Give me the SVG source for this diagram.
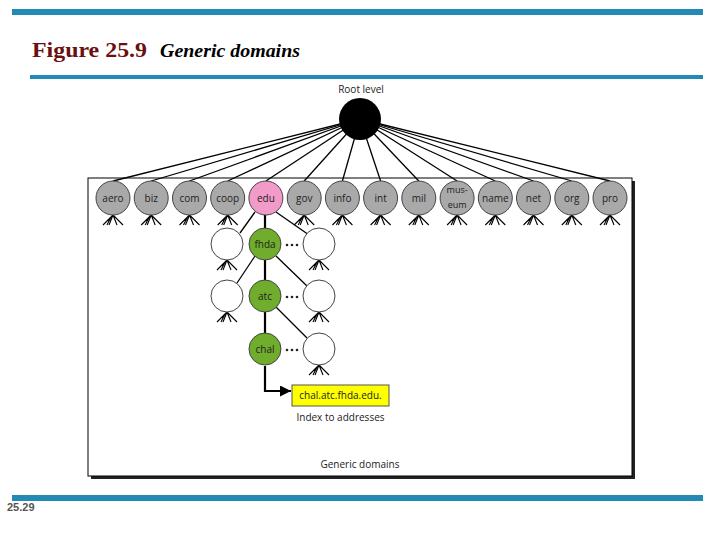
<svg xmlns="http://www.w3.org/2000/svg" width="720" height="540" viewBox="0 0 720 540">
<style>
.bar{fill:#2389b5}
.lbl{font-family:"Open Sans","Liberation Sans",Arial,sans-serif;font-size:10px;fill:#222;text-anchor:middle}
.sm{font-size:9px}
.g{fill:#a9a9a9;stroke:#444;stroke-width:1}
.w{fill:#fff;stroke:#444;stroke-width:1}
.gr{fill:#70ad2c;stroke:#444;stroke-width:1}
.pk{fill:#f29ac8;stroke:#444;stroke-width:1}
.ln{stroke:#000;stroke-width:1.3;fill:none}
.thk{stroke:#000;stroke-width:2.2;fill:none}
.fan{stroke:#000;stroke-width:1.1;fill:none}
.dot{fill:#222}
</style>
<defs>
<marker id="ah" viewBox="0 0 10 10" refX="10" refY="5" markerWidth="5" markerHeight="5" orient="auto"><path d="M0,0 L10,5 L0,10 z" fill="#000"/></marker>
<path id="f" d="M0,0 L-10,10 M0,0 L-4,10 M0,0 L4,10 M0,0 L10,10 M-2,2 L-6,10"/>
<g id="dots"><circle class="dot" cx="-5" cy="0" r="1.3"/><circle class="dot" cx="0" cy="0" r="1.3"/><circle class="dot" cx="5" cy="0" r="1.3"/></g>
</defs>
<rect class="bar" x="12" y="9" width="691" height="6"/>
<rect class="bar" x="30" y="75" width="673" height="4"/>
<rect class="bar" x="12" y="495" width="691" height="6"/>
<text x="32" y="57" font-family="Liberation Serif,serif" font-size="22" font-weight="bold" fill="#6a1010" textLength="115" lengthAdjust="spacingAndGlyphs">Figure 25.9</text>
<text x="160" y="57" font-family="Liberation Serif,serif" font-size="18" font-style="italic" font-weight="bold" fill="#000" textLength="140" lengthAdjust="spacingAndGlyphs">Generic domains</text>
<text x="7" y="511" font-family="Liberation Sans,Arial,sans-serif" font-size="11" font-weight="bold" fill="#555">25.29</text>
<g id="box">
<rect x="91" y="181" width="544" height="298" fill="#222"/>
<rect x="88" y="178" width="544" height="298" fill="#fff" stroke="#000" stroke-width="1"/>
<text class="lbl" x="360" y="468">Generic domains</text>
</g>
<g id="connectors">
<line class="ln" x1="360" y1="119" x2="113" y2="181"/>
<line class="ln" x1="360" y1="119" x2="151.2" y2="181"/>
<line class="ln" x1="360" y1="119" x2="189.5" y2="181"/>
<line class="ln" x1="360" y1="119" x2="227.7" y2="181"/>
<line class="ln" x1="360" y1="119" x2="265.9" y2="181"/>
<line class="ln" x1="360" y1="119" x2="304.2" y2="181"/>
<line class="ln" x1="360" y1="119" x2="342.4" y2="181"/>
<line class="ln" x1="360" y1="119" x2="380.6" y2="181"/>
<line class="ln" x1="360" y1="119" x2="418.8" y2="181"/>
<line class="ln" x1="360" y1="119" x2="457.1" y2="181"/>
<line class="ln" x1="360" y1="119" x2="495.3" y2="181"/>
<line class="ln" x1="360" y1="119" x2="533.5" y2="181"/>
<line class="ln" x1="360" y1="119" x2="571.8" y2="181"/>
<line class="ln" x1="360" y1="119" x2="610" y2="181"/>
<line class="thk" x1="265" y1="215" x2="265" y2="230"/>
<line class="thk" x1="265" y1="260" x2="265" y2="282"/>
<line class="thk" x1="265" y1="312" x2="265" y2="334"/>
<path class="thk" d="M265,366 V391 H291" marker-end="url(#ah)"/>
<line class="ln" x1="255" y1="212" x2="240" y2="233"/>
<line class="ln" x1="276" y1="212" x2="309" y2="235"/>
<line class="ln" x1="255" y1="256" x2="237" y2="283"/>
<line class="ln" x1="276" y1="256" x2="307" y2="286"/>
<line class="ln" x1="276" y1="307" x2="307" y2="338"/>
<g class="fan">
<use href="#f" x="113" y="215"/><use href="#f" x="151.2" y="215"/><use href="#f" x="189.5" y="215"/><use href="#f" x="227.7" y="215"/>
<use href="#f" x="304.2" y="215"/><use href="#f" x="342.4" y="215"/><use href="#f" x="380.6" y="215"/><use href="#f" x="418.8" y="215"/>
<use href="#f" x="457.1" y="215"/><use href="#f" x="495.3" y="215"/><use href="#f" x="533.5" y="215"/><use href="#f" x="571.8" y="215"/><use href="#f" x="610" y="215"/>
<use href="#f" x="227" y="260"/><use href="#f" x="319" y="260"/>
<use href="#f" x="227" y="312"/><use href="#f" x="319" y="312"/>
<use href="#f" x="319" y="365"/>
</g>
</g>
<g id="root"><circle cx="360" cy="119" r="21" fill="#000"/><text class="lbl" x="361" y="93">Root level</text></g>
<g id="aero"><circle class="g" cx="113" cy="198" r="17"/><text class="lbl" x="113" y="202">aero</text></g>
<g id="biz"><circle class="g" cx="151.2" cy="198" r="17"/><text class="lbl" x="151.2" y="202">biz</text></g>
<g id="com"><circle class="g" cx="189.5" cy="198" r="17"/><text class="lbl" x="189.5" y="202">com</text></g>
<g id="coop"><circle class="g" cx="227.7" cy="198" r="17"/><text class="lbl" x="227.7" y="202">coop</text></g>
<g id="edu"><circle class="pk" cx="265.9" cy="198" r="17"/><text class="lbl" x="265.9" y="202">edu</text></g>
<g id="gov"><circle class="g" cx="304.2" cy="198" r="17"/><text class="lbl" x="304.2" y="202">gov</text></g>
<g id="info"><circle class="g" cx="342.4" cy="198" r="17"/><text class="lbl" x="342.4" y="202">info</text></g>
<g id="int"><circle class="g" cx="380.6" cy="198" r="17"/><text class="lbl" x="380.6" y="202">int</text></g>
<g id="mil"><circle class="g" cx="418.8" cy="198" r="17"/><text class="lbl" x="418.8" y="202">mil</text></g>
<g id="museum"><circle class="g" cx="457.1" cy="198" r="17"/><text class="lbl sm" x="457.1" y="193">mus-</text><text class="lbl sm" x="457.1" y="208">eum</text></g>
<g id="name"><circle class="g" cx="495.3" cy="198" r="17"/><text class="lbl" x="495.3" y="202">name</text></g>
<g id="net"><circle class="g" cx="533.5" cy="198" r="17"/><text class="lbl" x="533.5" y="202">net</text></g>
<g id="org"><circle class="g" cx="571.8" cy="198" r="17"/><text class="lbl" x="571.8" y="202">org</text></g>
<g id="pro"><circle class="g" cx="610" cy="198" r="17"/><text class="lbl" x="610" y="202">pro</text></g>
<g id="w1l"><circle class="w" cx="227" cy="244" r="16"/></g>
<g id="fhda"><circle class="gr" cx="265" cy="244" r="16"/><text class="lbl" x="265" y="248">fhda</text><use href="#dots" x="292" y="245"/></g>
<g id="w1r"><circle class="w" cx="319" cy="244" r="16"/></g>
<g id="w2l"><circle class="w" cx="227" cy="296" r="16"/></g>
<g id="atc"><circle class="gr" cx="265" cy="296" r="16"/><text class="lbl" x="265" y="300">atc</text><use href="#dots" x="292" y="297"/></g>
<g id="w2r"><circle class="w" cx="319" cy="296" r="16"/></g>
<g id="chal"><circle class="gr" cx="265" cy="349" r="16"/><text class="lbl" x="265" y="353">chal</text><use href="#dots" x="292" y="350"/></g>
<g id="w3r"><circle class="w" cx="319" cy="349" r="16"/></g>
<g id="addr"><rect x="292" y="385" width="97" height="21" fill="#ffff00" stroke="#555" stroke-width="1"/><text class="lbl" x="340.5" y="399">chal.atc.fhda.edu.</text><text class="lbl" x="340.5" y="421">Index to addresses</text></g>
</svg>
